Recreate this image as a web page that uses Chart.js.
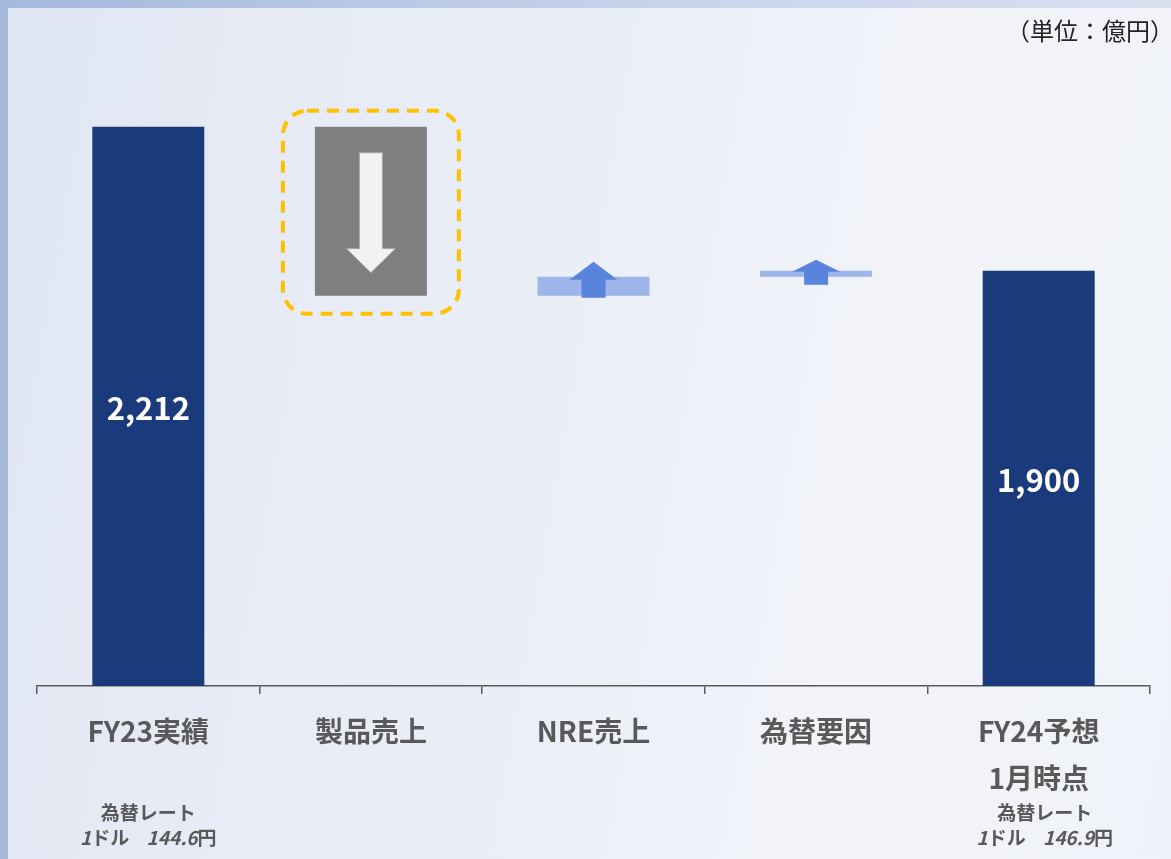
<!DOCTYPE html>
<html lang="ja">
<head>
<meta charset="utf-8">
<script src="https://cdn.jsdelivr.net/npm/chart.js@4.4.1/dist/chart.umd.min.js"></script>
<style>
  html, body { margin: 0; padding: 0; }
  body {
    width: 1171px; height: 859px; overflow: hidden; position: relative;
    background: linear-gradient(100deg, #E1E7F3 0%, #EAEEF7 45%, #F2F4F9 75%, #EFF2F8 100%);
  }
  #topband { position: absolute; left: 0; top: 0; width: 1171px; height: 8px;
    background: linear-gradient(to right, #A5B9DC, #C9D5EC 60%, #D8E0F0); }
  #leftband { position: absolute; left: 0; top: 0; width: 8px; height: 859px; background: #A5B9DC; }
  canvas { position: absolute; left: 0; top: 0; }
</style>
</head>
<body>
<div id="topband"></div>
<div id="leftband"></div>
<canvas id="waterfall" width="1171" height="859"></canvas>
<script>
// 売上高ブリッジ（単位：億円）
const categories = [["FY23実績"], ["製品売上"], ["NRE売上"], ["為替要因"], ["FY24予想", "1月時点"]];
const startValue = 2212;
const changes = [-366, 41, 13];   // 製品売上, NRE売上, 為替要因
const endValue = 1900;
const valueLabels = ["2,212", "", "", "", "1,900"];
const rateNotes = [["為替レート", "1ドル", "144.6円"], null, null, null, ["為替レート", "1ドル", "146.9円"]];
const axisMin = 1000;
const axisMax = 2400;

const NAVY = "#1B3A7C";
const GRAY = "#7F7F7F";
const LIGHTBLUE = "#9DB5EA";
const ARROWBLUE = "#5A84DC";
const TEXTGRAY = "#595959";
const JP = "'Noto Sans CJK JP', 'Noto Sans', sans-serif";

// 浮動バー [始点, 終点] を作る
const ranges = [[axisMin, startValue]];
let running = startValue;
changes.forEach(function (c) {
  ranges.push([running, running + c].sort(function (a, b) { return a - b; }));
  running += c;
});
ranges.push([axisMin, endValue]);

const barColors = [NAVY, GRAY, LIGHTBLUE, LIGHTBLUE, NAVY];

const decoPlugin = {
  id: "deco",
  afterDatasetsDraw(chart) {
    const ctx = chart.ctx;
    const bars = chart.getDatasetMeta(0).data;

    bars.forEach(function (bar, i) {
      const top = Math.min(bar.y, bar.base);
      const bottom = Math.max(bar.y, bar.base);
      const left = bar.x - bar.width / 2;
      const right = bar.x + bar.width / 2;
      ctx.save();

      if (i === 1) {
        // 下向き矢印
        const sw = 23, hw = 49;
        const y0 = top + 26, tip = bottom - 23, hb = tip - 24;
        ctx.beginPath();
        ctx.moveTo(bar.x - sw / 2, y0);
        ctx.lineTo(bar.x + sw / 2, y0);
        ctx.lineTo(bar.x + sw / 2, hb);
        ctx.lineTo(bar.x + hw / 2, hb);
        ctx.lineTo(bar.x, tip);
        ctx.lineTo(bar.x - hw / 2, hb);
        ctx.lineTo(bar.x - sw / 2, hb);
        ctx.closePath();
        ctx.fillStyle = "#F2F2F2";
        ctx.fill();
        ctx.strokeStyle = "#A6A6A6";
        ctx.lineWidth = 1;
        ctx.stroke();

        // 黄色の破線枠
        const px = 32, r = 24;
        const bx = left - px, by = top - 16, bw = (right - left) + 2 * px, bh = (bottom - top) + 34;
        ctx.beginPath();
        ctx.roundRect(bx, by, bw, bh, r);
        ctx.setLineDash([12, 8]);
        ctx.lineWidth = 4;
        ctx.strokeStyle = "#FFC000";
        ctx.stroke();
        ctx.setLineDash([]);
      }

      if (i === 2 || i === 3) {
        // 上向き矢印
        const s = i === 2 ? { above: 15, head: 18, below: 2 } : { above: 11, head: 12, below: 8 };
        const sw = 24, hw = 48;
        const tip = top - s.above, hb = tip + s.head, y1 = bottom + s.below;
        ctx.beginPath();
        ctx.moveTo(bar.x, tip);
        ctx.lineTo(bar.x + hw / 2, hb);
        ctx.lineTo(bar.x + sw / 2, hb);
        ctx.lineTo(bar.x + sw / 2, y1);
        ctx.lineTo(bar.x - sw / 2, y1);
        ctx.lineTo(bar.x - sw / 2, hb);
        ctx.lineTo(bar.x - hw / 2, hb);
        ctx.closePath();
        ctx.fillStyle = ARROWBLUE;
        ctx.fill();
      }

      if (valueLabels[i]) {
        ctx.fillStyle = "#FFFFFF";
        ctx.font = "bold 31px " + JP;
        ctx.textAlign = "center";
        ctx.textBaseline = "middle";
        ctx.fillText(valueLabels[i], bar.x, (top + bottom) / 2 + 2);
      }

      // 為替レートの注記
      const note = rateNotes[i];
      if (note) {
        const axisTop = chart.scales.x.top;
        const cx = bar.x + (i === 4 ? 6 : 0);
        ctx.fillStyle = TEXTGRAY;
        ctx.textBaseline = "middle";
        ctx.textAlign = "center";
        ctx.font = "bold 19px " + JP;
        ctx.fillText(note[0], cx, axisTop + 127);

        const parts = [
          { t: "1", f: "italic bold 19px " + JP },
          { t: "ドル", f: "bold 19px " + JP },
          { t: "    ", f: "bold 19px " + JP },
          { t: note[2].replace("円", ""), f: "italic bold 19px " + JP },
          { t: "円", f: "bold 19px " + JP }
        ];
        let total = 0;
        parts.forEach(function (p) { ctx.font = p.f; p.w = ctx.measureText(p.t).width; total += p.w; });
        let x = cx - total / 2;
        ctx.textAlign = "left";
        parts.forEach(function (p) { ctx.font = p.f; ctx.fillText(p.t, x, axisTop + 152); x += p.w; });
      }
      ctx.restore();
    });

    // 単位
    ctx.save();
    ctx.fillStyle = "#222222";
    ctx.font = "24px " + JP;
    ctx.textAlign = "right";
    ctx.textBaseline = "middle";
    ctx.fillText("（単位：億円）", 1174, 31);
    ctx.restore();
  }
};

new Chart(document.getElementById("waterfall"), {
  type: "bar",
  data: {
    labels: categories,
    datasets: [{
      data: ranges,
      backgroundColor: barColors,
      borderWidth: 0,
      barPercentage: 0.503,
      categoryPercentage: 1
    }]
  },
  options: {
    responsive: false,
    animation: false,
    layout: { padding: { left: 37, right: 21, top: 40, bottom: 0 } },
    plugins: {
      legend: { display: false },
      tooltip: { enabled: false }
    },
    scales: {
      x: {
        offset: true,
        afterFit: function (scale) { scale.height = 173; },
        border: { display: true, color: TEXTGRAY, width: 1.5 },
        grid: { offset: true, drawOnChartArea: false, drawTicks: true, tickLength: 8, color: TEXTGRAY, lineWidth: 1.5 },
        ticks: {
          color: TEXTGRAY,
          padding: 14,
          font: { family: JP, size: 28, weight: "bold", lineHeight: 1.68 }
        }
      },
      y: {
        display: false,
        min: axisMin,
        max: axisMax
      }
    }
  },
  plugins: [decoPlugin]
});
</script>
</body>
</html>
